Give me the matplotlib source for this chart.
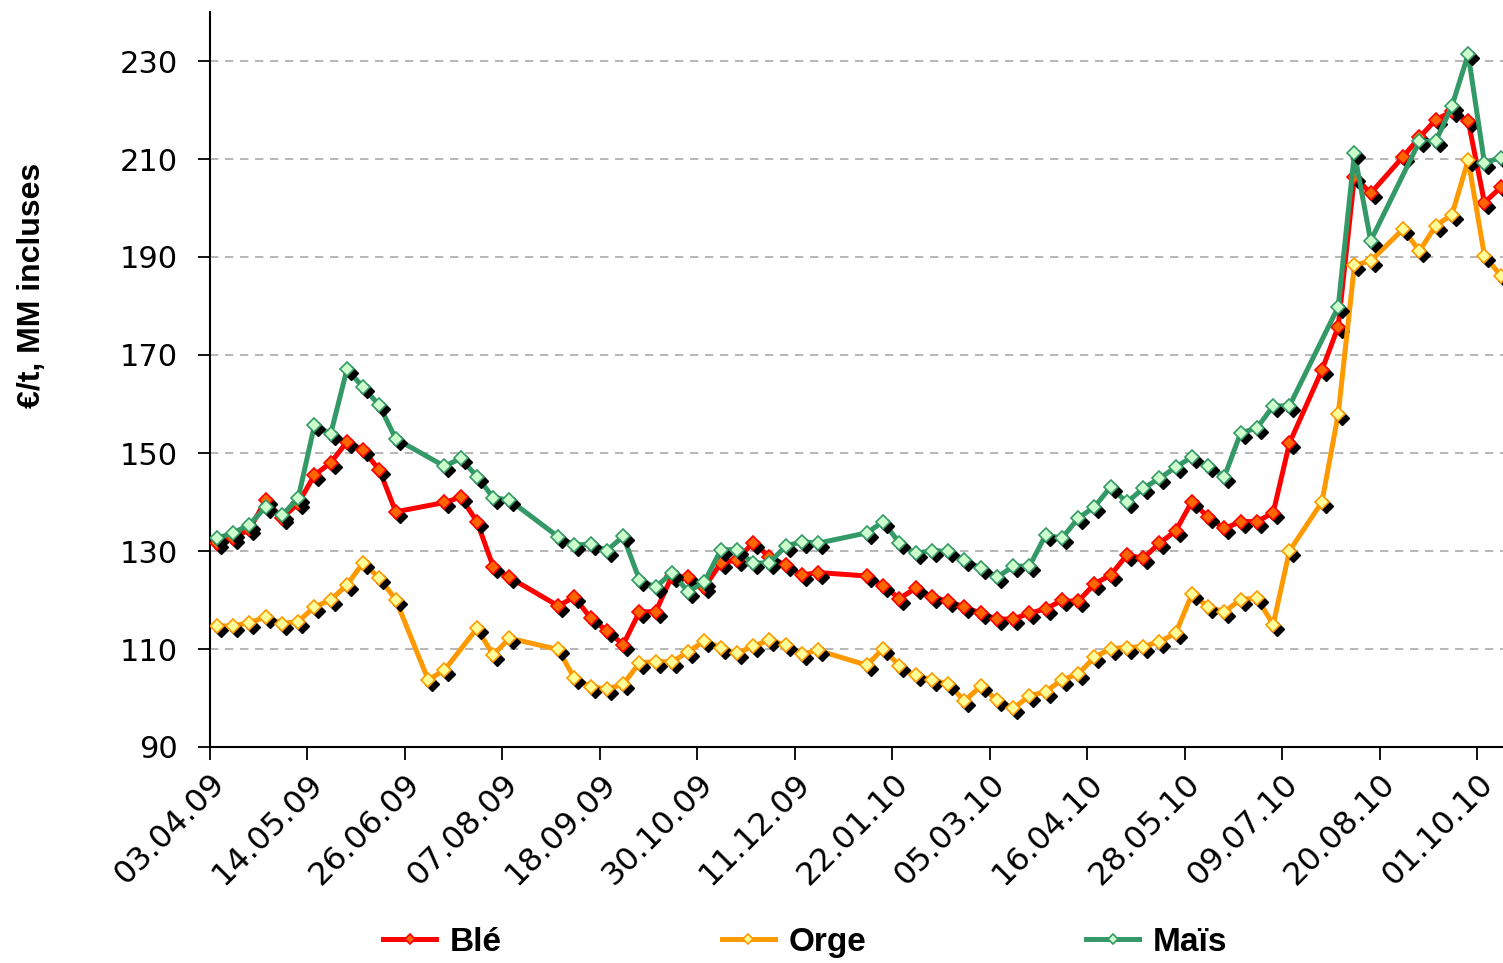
import numpy as np
import matplotlib
matplotlib.use("Agg")
import matplotlib.pyplot as plt
from matplotlib.transforms import offset_copy

# weekly prices, week 0 = 06.04.09 (weeks without a quote are simply absent)
first_week = np.datetime64("2009-04-06")
axis_start = np.datetime64("2009-04-03")

ble_weeks = [0, 1, 2, 3, 4, 5, 6, 7, 8, 9, 10, 11,
             14, 15, 16, 17, 18,
             21, 22, 23, 24, 25, 26, 27, 28, 29, 30, 31, 32, 33, 34, 35, 36, 37,
             40, 41, 42, 43, 44, 45, 46, 47, 48, 49, 50, 51, 52, 53, 54, 55, 56,
             57, 58, 59, 60, 61, 62, 63, 64, 65, 66,
             68, 69, 70, 71, 73, 74, 75, 76, 77, 78, 79]
ble_vals = [131.6, 132.6, 134.4, 140.4, 136.7, 139.7, 145.5, 148.0, 152.3, 150.6, 146.5, 138.0,
            139.9, 141.0, 136.0, 126.8, 124.6,
            118.8, 120.6, 116.3, 113.7, 110.9, 117.6, 117.6, 124.9, 124.6, 122.6, 127.5, 128.2,
            131.7, 128.8, 127.1, 125.1, 125.6,
            124.9, 122.9, 120.3, 122.4, 120.7, 119.7, 118.6, 117.3, 116.1, 116.1, 117.3, 118.2,
            119.9, 119.7, 123.3, 125.1, 129.2, 128.5, 131.6, 134.1, 140.1, 136.9, 134.6, 136.0,
            136.0, 137.8, 152.0,
            166.9, 175.8, 206.4, 203.0, 210.5, 214.4, 218.0, 219.7, 217.8, 201.1, 204.2]

orge_weeks = [0, 1, 2, 3, 4, 5, 6, 7, 8, 9, 10, 11,
              13, 14, 16, 17, 18,
              21, 22, 23, 24, 25, 26, 27, 28, 29, 30, 31, 32, 33, 34, 35, 36, 37,
              40, 41, 42, 43, 44, 45, 46, 47, 48, 49, 50, 51, 52, 53, 54, 55, 56,
              57, 58, 59, 60, 61, 62, 63, 64, 65, 66,
              68, 69, 70, 71, 73, 74, 75, 76, 77, 78, 79]
orge_vals = [114.7, 114.7, 115.4, 116.5, 115.2, 115.6, 118.6, 120.0, 123.1, 127.6, 124.4, 120.1,
             103.7, 105.7, 114.2, 108.8, 112.2,
             109.9, 104.0, 102.3, 101.8, 102.8, 107.2, 107.4, 107.4, 109.4, 111.7, 110.3, 109.1,
             110.6, 111.8, 110.8, 109.0, 109.7,
             106.7, 110.1, 106.5, 104.6, 103.7, 102.9, 99.4, 102.4, 99.6, 97.9, 100.4, 101.3,
             103.7, 104.9, 108.3, 110.1, 110.3, 110.5, 111.5, 113.2, 121.2, 118.6, 117.6, 120.1,
             120.4, 115.0, 130.0,
             140.0, 157.9, 188.3, 189.2, 195.7, 191.2, 196.4, 198.6, 209.8, 190.3, 186.2]

mais_weeks = [0, 1, 2, 3, 4, 5, 6, 7, 8, 9, 10, 11,
              14, 15, 16, 17, 18,
              21, 22, 23, 24, 25, 26, 27, 28, 29, 30, 31, 32, 33, 34, 35, 36, 37,
              40, 41, 42, 43, 44, 45, 46, 47, 48, 49, 50, 51, 52, 53, 54, 55, 56,
              57, 58, 59, 60, 61, 62, 63, 64, 65, 66,
              69, 70, 71, 74, 75, 76, 77, 78, 79]
mais_vals = [132.6, 133.7, 135.4, 139.0, 137.3, 140.8, 155.7, 153.9, 167.1, 163.4, 159.7, 152.9,
             147.3, 148.9, 145.2, 140.9, 140.4,
             132.9, 131.2, 131.4, 130.1, 133.0, 124.1, 122.6, 125.6, 121.7, 123.7, 130.2, 130.3,
             127.5, 127.6, 131.0, 131.9, 131.6,
             133.7, 136.0, 131.6, 129.5, 130.1, 129.9, 128.2, 126.5, 124.6, 126.9, 126.9, 133.3,
             132.6, 136.7, 139.0, 143.1, 139.9, 142.8, 144.8, 147.1, 149.2, 147.3, 145.2, 154.1,
             155.1, 159.6, 159.6,
             179.8, 211.2, 193.3, 213.6, 213.6, 220.8, 231.4, 209.2, 210.3]

x_labels = ["03.04.09", "14.05.09", "26.06.09", "07.08.09", "18.09.09", "30.10.09",
            "11.12.09", "22.01.10", "05.03.10", "16.04.10", "28.05.10", "09.07.10",
            "20.08.10", "01.10.10"]
y_ticks = [90, 110, 130, 150, 170, 190, 210, 230]

series = [
    ("Blé", ble_weeks, ble_vals, "#FF0000", "#FF6600"),
    ("Orge", orge_weeks, orge_vals, "#FF9900", "#FFFF99"),
    ("Maïs", mais_weeks, mais_vals, "#339966", "#CCFFCC"),
]

fig = plt.figure(figsize=(15.03, 9.63), dpi=100)
ax = fig.add_axes([210 / 1503, 1 - 747 / 963, 1 - 210 / 1503, (747 - 12) / 963])

shadow = offset_copy(ax.transData, fig=fig, x=4, y=-4, units="dots")

handles = []
for i, (name, weeks, vals, col, face) in enumerate(series):
    dates = first_week + np.array(weeks) * np.timedelta64(7, "D")
    z = 2 + i * 3
    h, = ax.plot(dates, vals, color=col, lw=3.6, solid_joinstyle="round", zorder=z,
                 label=name, marker="D", ms=7, mfc=face, mec=col, mew=1.2,
                 markevery=[])
    handles.append(h)
    ax.plot(dates, vals, ls="none", marker="D", ms=7.5, color="black",
            transform=shadow, zorder=z + 1)
    ax.plot(dates, vals, ls="none", marker="D", ms=7.5, mfc=face, mec=col,
            mew=1.2, zorder=z + 2)

ax.set_ylim(90, 240)
ax.set_yticks(y_ticks)
ax.set_xlim(axis_start, axis_start + np.timedelta64(557, "D"))
ax.set_xticks(axis_start + np.arange(len(x_labels)) * np.timedelta64(42, "D"))
ax.set_xticklabels(x_labels, rotation=45, ha="right", va="top",
                   rotation_mode="anchor")

ax.grid(axis="y", color="#aaaaaa", ls=(0, (5, 4)), lw=1.2)
ax.set_axisbelow(True)
for s in ["top", "right"]:
    ax.spines[s].set_visible(False)
for s in ["left", "bottom"]:
    ax.spines[s].set_linewidth(1.5)

ax.tick_params(axis="both", length=9, width=1.3, direction="out")
ax.tick_params(axis="y", pad=14, labelsize=22)
ax.tick_params(axis="x", pad=6, labelsize=23)

fig.text(32 / 1503, 1 - 285 / 963, "€/t, MM incluses", rotation=90,
         ha="center", va="center", fontsize=23, fontweight="bold",
         family=["Liberation Sans", "DejaVu Sans"])

# legend markers without the offset shadow
fig.legend(handles=handles,
           loc="center", bbox_to_anchor=(805 / 1503, 1 - 942 / 963),
           ncol=3, frameon=False, handlelength=1.6, handletextpad=0.4,
           columnspacing=6.6, markerscale=0.8,
           prop={"family": ["Liberation Sans", "DejaVu Sans"], "weight": "bold", "size": 24})

plt.savefig("out.png", dpi=100)
